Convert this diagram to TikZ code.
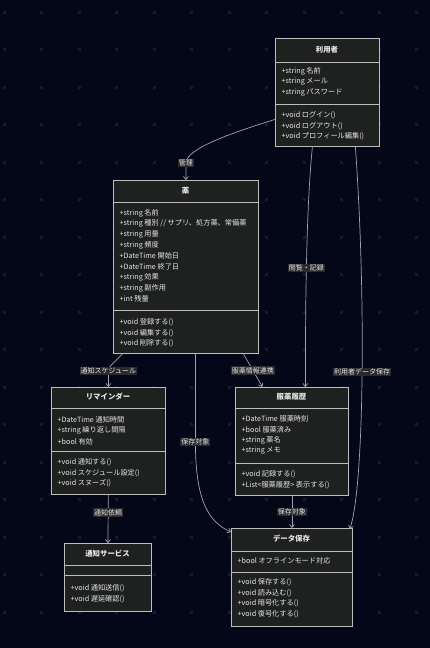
\documentclass[tikz,border=0pt]{standalone}
\usepackage{fontspec}
\setmainfont{Noto Sans CJK JP}
\usetikzlibrary{arrows.meta}

\definecolor{bgnavy}{HTML}{030718}
\definecolor{griddot}{HTML}{161A2A}
\definecolor{boxfill}{HTML}{1F2020}
\definecolor{boxline}{HTML}{BDBDBD}
\definecolor{boxtext}{HTML}{E6E6E6}
\definecolor{edgeline}{HTML}{A4A4A8}
\definecolor{lblfill}{HTML}{2A2A2E}

\tikzset{
  classbox/.style={draw=boxline, fill=boxfill, line width=0.8pt, anchor=north west, inner sep=0pt},
  classtitle/.style={text=boxtext, font=\bfseries\fontsize{7.4}{8}\selectfont, inner sep=0pt},
  member/.style={text=boxtext, font=\fontsize{7.2}{8}\selectfont, anchor=west, inner sep=0pt},
  sepline/.style={draw=boxline, line width=0.8pt},
  rel/.style={draw=edgeline, line width=0.7pt, -{Straight Barb[length=3pt,width=5pt]}},
  edgelabel/.style={fill=lblfill, text=boxtext, font=\fontsize{7}{8}\selectfont, inner sep=1pt}
}

\begin{document}
\begin{tikzpicture}[x=1pt,y=-1pt]
  % background and dot grid
  \fill[bgnavy] (0,0) rectangle (430,648);
  \useasboundingbox (0,0) rectangle (430,648);
  \foreach \gx in {0,...,11} {
    \foreach \gy in {0,...,16} {
      \fill[griddot] (2.5+37.5*\gx, 10.5+37.5*\gy) rectangle ++(3,3);
    }
  }

  % user
  \node[classbox, minimum width=104pt, minimum height=108pt] (user) at (275,38) {};
  \node[classtitle] (user-title) at (327,50) {利用者};
  \draw[sepline] (275,62) -- (379,62);
  \draw[sepline] (275,104) -- (379,104);
  \foreach \txt [count=\i] in {{+string 名前},{+string メール},{+string パスワード}}
    \node[member] (user-a\i) at (281.5,71+10.7*\i-10.7) {\txt};
  \foreach \txt [count=\i] in {{+void ログイン()},{+void ログアウト()},{+void プロフィール編集()}}
    \node[member] (user-m\i) at (281.5,115+10.7*\i-10.7) {\txt};

  % drug
  \node[classbox, minimum width=145pt, minimum height=173pt] (drug) at (113,180) {};
  \node[classtitle] (drug-title) at (185.5,191) {薬};
  \draw[sepline] (113,202) -- (258,202);
  \draw[sepline] (113,310) -- (258,310);
  \foreach \txt [count=\i] in {{+string 名前},{+string 種別 // サプリ、処方薬、常備薬},
      {+string 用量},{+string 頻度},{+DateTime 開始日},{+DateTime 終了日},
      {+string 効果},{+string 副作用},{+int 残量}}
    \node[member] (drug-a\i) at (119.5,213+10.7*\i-10.7) {\txt};
  \foreach \txt [count=\i] in {{+void 登録する()},{+void 編集する()},{+void 削除する()}}
    \node[member] (drug-m\i) at (119.5,322+10.7*\i-10.7) {\txt};

  % reminder
  \node[classbox, minimum width=114pt, minimum height=107pt] (remind) at (51,387) {};
  \node[classtitle] (remind-title) at (108,397) {リマインダー};
  \draw[sepline] (51,408) -- (165,408);
  \draw[sepline] (51,451) -- (165,451);
  \foreach \txt [count=\i] in {{+DateTime 通知時間},{+string 繰り返し間隔},{+bool 有効}}
    \node[member] (remind-a\i) at (57.5,420+10.7*\i-10.7) {\txt};
  \foreach \txt [count=\i] in {{+void 通知する()},{+void スケジュール設定()},{+void スヌーズ()}}
    \node[member] (remind-m\i) at (57.5,462+10.7*\i-10.7) {\txt};

  % intake history
  \node[classbox, minimum width=113pt, minimum height=108pt] (hist) at (235,387) {};
  \node[classtitle] (hist-title) at (291.5,397) {服薬履歴};
  \draw[sepline] (235,408) -- (348,408);
  \draw[sepline] (235,463) -- (348,463);
  \foreach \txt [count=\i] in {{+DateTime 服薬時刻},{+bool 服薬済み},{+string 薬名},{+string メモ}}
    \node[member] (hist-a\i) at (241.5,419+10.7*\i-10.7) {\txt};
  \foreach \txt [count=\i] in {{+void 記録する()},{+List<服薬履歴> 表示する()}}
    \node[member] (hist-m\i) at (241.5,474+10.7*\i-10.7) {\txt};

  % notification service
  \node[classbox, minimum width=87pt, minimum height=68pt] (notify) at (64,543) {};
  \node[classtitle] (notify-title) at (107.5,554) {通知サービス};
  \draw[sepline] (64,565) -- (151,565);
  \draw[sepline] (64,575) -- (151,575);
  \foreach \txt [count=\i] in {{+void 通知送信()},{+void 遅延確認()}}
    \node[member] (notify-m\i) at (70.5,588+10.7*\i-10.7) {\txt};

  % data storage
  \node[classbox, minimum width=121pt, minimum height=98pt] (store) at (231,528) {};
  \node[classtitle] (store-title) at (291.5,539) {データ保存};
  \draw[sepline] (231,551) -- (352,551);
  \draw[sepline] (231,572) -- (352,572);
  \node[member] (store-a1) at (237.5,561) {+bool オフラインモード対応};
  \foreach \txt [count=\i] in {{+void 保存する()},{+void 読み込む()},{+void 暗号化する()},{+void 復号化する()}}
    \node[member] (store-m\i) at (237.5,582+10.7*\i-10.7) {\txt};

  % relations
  \draw[rel] ([yshift=-27pt]user.west) .. controls +(-45,14) and +(0,-14) ..
    ([yshift=17pt]drug.north) node[edgelabel] (lbl-manage) {管理} -- (drug.north);
  \draw[rel] ([xshift=-15pt]user.south) .. controls +(-6,60) and +(0,-90) ..
    ([xshift=13.5pt]hist.north) node[edgelabel, pos=0.55] (lbl-view) {閲覧・記録};
  \draw[rel] ([xshift=28pt]user.south) .. controls +(11,154) and +(14,-40) ..
    ([xshift=-3pt,yshift=-1pt]store.north east) node[edgelabel, pos=0.48] (lbl-usersave) {利用者データ保存};
  \draw[rel] ([xshift=-63.5pt]drug.south) .. controls +(-8,9) and +(0,-5) ..
    ([yshift=16pt]remind.north) node[edgelabel] (lbl-sched) {通知スケジュール} -- (remind.north);
  \draw[rel] ([xshift=57.5pt]drug.south) -- ([xshift=-29.5pt]hist.north)
    node[edgelabel, midway] (lbl-link) {服薬情報連携};
  \draw[rel] ([xshift=9.5pt]drug.south) -- ([xshift=9.5pt,yshift=-88pt]drug.south)
    node[edgelabel] (lbl-drugsave) {保存対象} .. controls +(0,60) and +(-22,-10) ..
    ([yshift=-4pt]store.north west);
  \draw[rel] (remind.south) -- (notify.north) node[edgelabel, pos=0.37] (lbl-request) {通知依頼};
  \draw[rel] (hist.south) -- (store.north) node[edgelabel, midway] (lbl-histsave) {保存対象};
\end{tikzpicture}
\end{document}
